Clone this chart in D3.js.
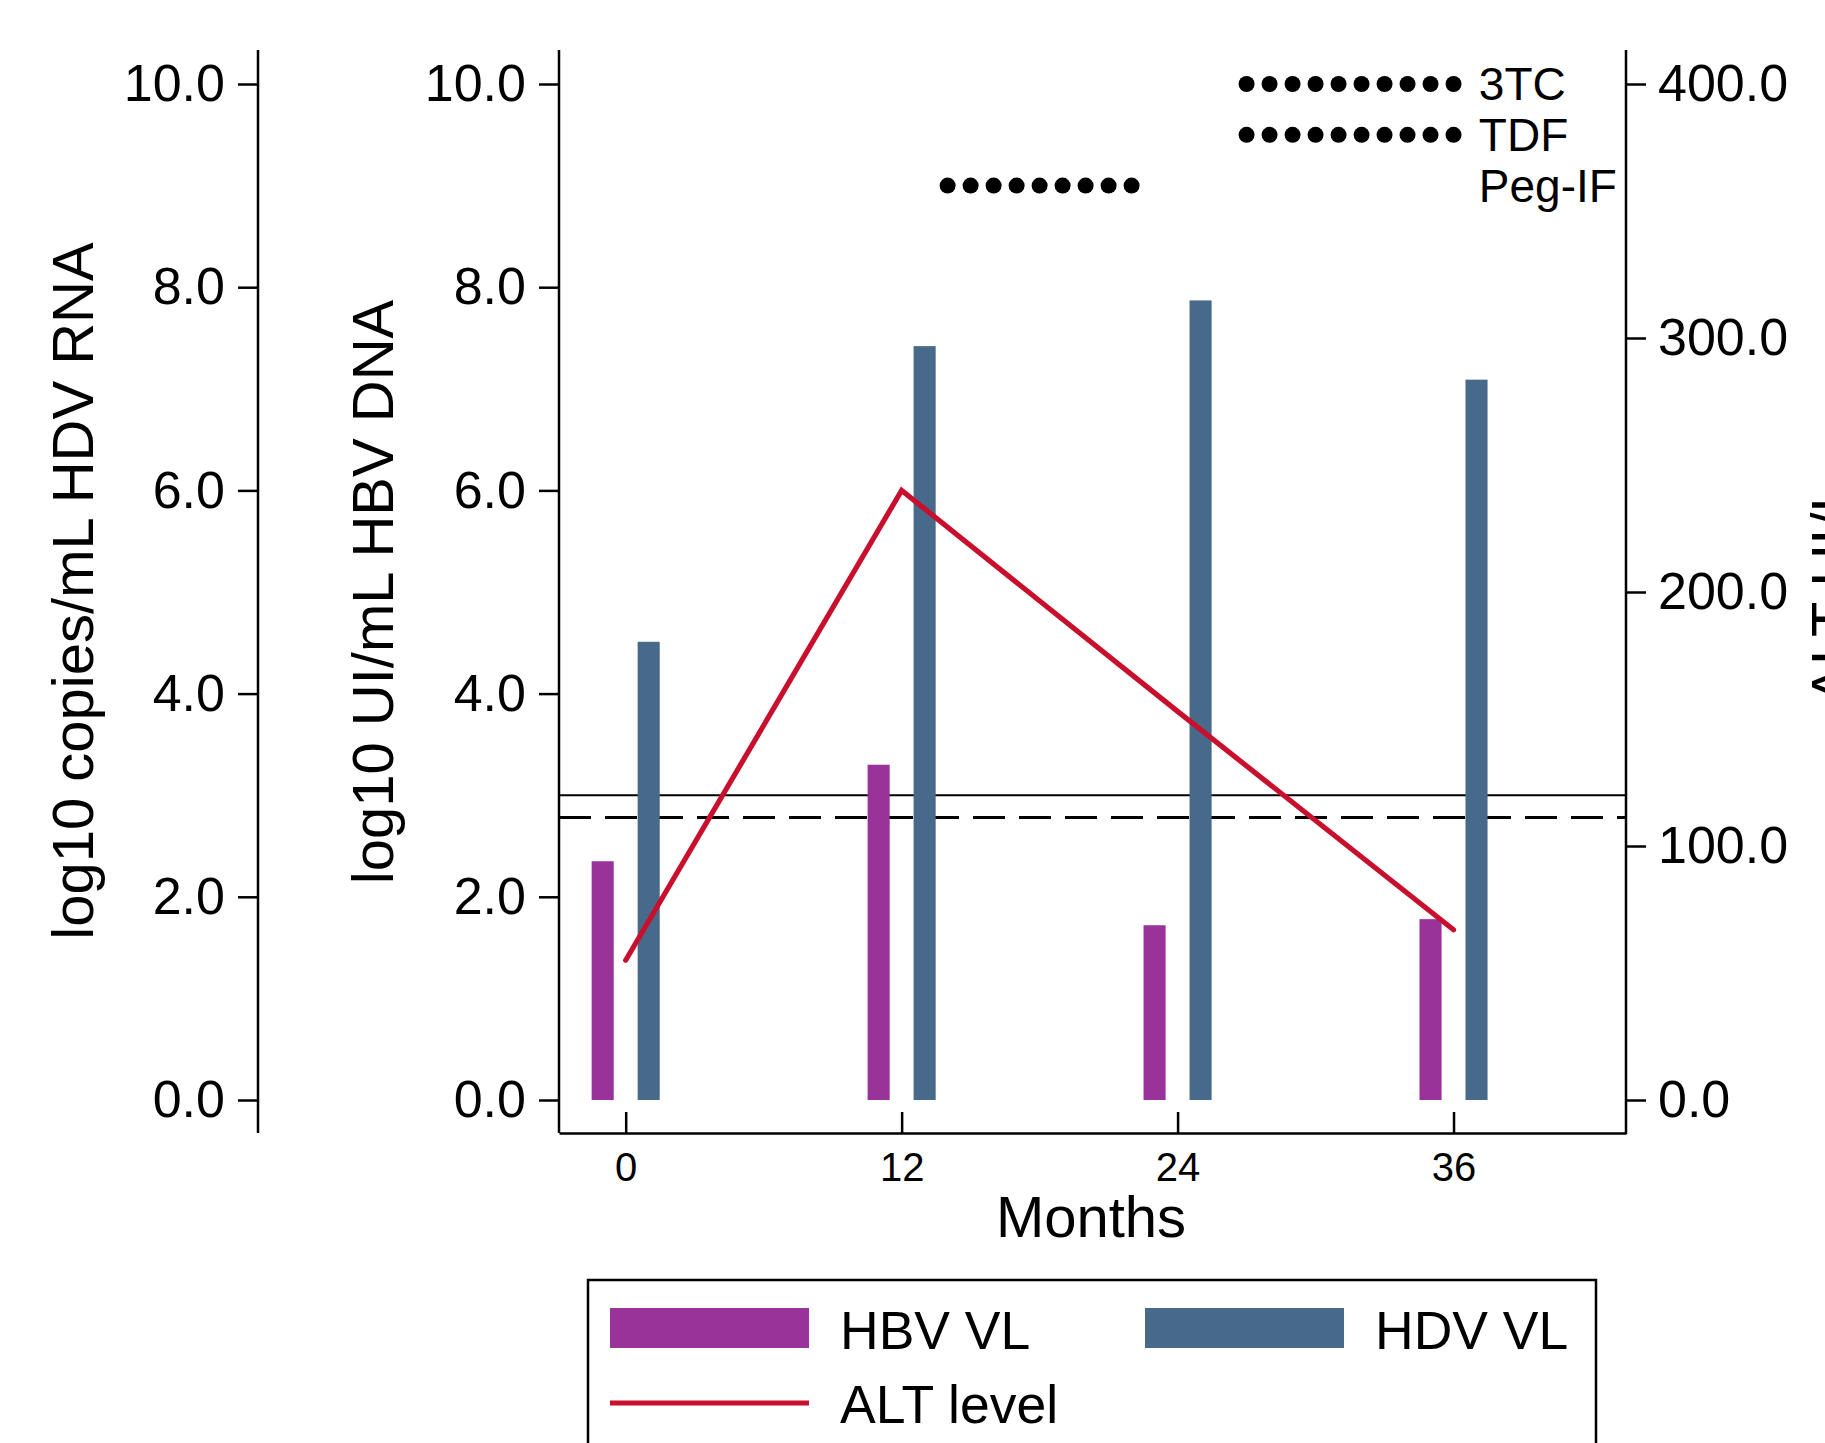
<!DOCTYPE html>
<html>
<head>
<meta charset="utf-8">
<script src="https://cdn.jsdelivr.net/npm/d3@7"></script>
<style>
  body { margin: 0; background: #fff; }
  svg { display: block; font-family: "Liberation Sans", Arial, sans-serif; }
</style>
</head>
<body>
<div id="chart"></div>
<script>
// data
const months = [0, 12, 24, 36];
const hbvVL = [2.35, 3.30, 1.72, 1.78];   // log10 UI/mL
const hdvVL = [4.51, 7.42, 7.87, 7.09];   // log10 copies/mL
const altLevel = [55, 240, 153, 67];      // ALT UI/L
const logTicks = [0, 2, 4, 6, 8, 10];
const altTicks = [0, 100, 200, 300, 400];
const refLines = [{ v: 3.0, dash: null }, { v: 2.78, dash: '32,14' }];
const treatments = [
  { name: '3TC', level: 10.0, from: 27, to: 36 },
  { name: 'TDF', level: 9.5, from: 27, to: 36 },
  { name: 'Peg-IF', level: 9.0, from: 14, to: 22 }
];

const w = 1825, h = 1443;
const hbvColor = '#993399';
const hdvColor = '#476a8b';
const altColor = '#c8102e';

const svg = d3.select('#chart').append('svg')
  .attr('width', w)
  .attr('height', h);

const x = d3.scaleLinear().domain([-2.9, 43.5]).range([559, 1626]);
const y = d3.scaleLinear().domain([0, 10]).range([1100, 84]);
const yAlt = d3.scaleLinear().domain([0, 400]).range([1100, 84]);
const bottom = 1133;
const barW = x(0.96) - x(0);

// reference lines
refLines.forEach((r) => {
  svg.append('line')
    .attr('x1', x.range()[0]).attr('x2', x.range()[1])
    .attr('y1', y(r.v)).attr('y2', y(r.v))
    .attr('stroke', '#000')
    .attr('stroke-width', r.dash ? 3 : 2)
    .attr('stroke-dasharray', r.dash);
});

// bars
svg.selectAll('.hbv')
  .data(months)
  .enter()
  .append('rect')
  .attr('class', 'hbv')
  .attr('x', (d) => x(d - 1) - barW / 2)
  .attr('y', (d, i) => y(hbvVL[i]))
  .attr('width', barW)
  .attr('height', (d, i) => y(0) - y(hbvVL[i]))
  .attr('fill', hbvColor);

svg.selectAll('.hdv')
  .data(months)
  .enter()
  .append('rect')
  .attr('class', 'hdv')
  .attr('x', (d) => x(d + 1) - barW / 2)
  .attr('y', (d, i) => y(hdvVL[i]))
  .attr('width', barW)
  .attr('height', (d, i) => y(0) - y(hdvVL[i]))
  .attr('fill', hdvColor);

// ALT line
const line = d3.line()
  .x((d) => x(d))
  .y((d, i) => yAlt(altLevel[i]));

svg.append('path')
  .datum(months)
  .attr('d', line)
  .attr('fill', 'none')
  .attr('stroke', altColor)
  .attr('stroke-width', 5.2)
  .attr('stroke-linecap', 'round');

// treatment dots
treatments.forEach((t) => {
  const pts = d3.range(t.from, t.to + 1);
  svg.append('g').selectAll('circle')
    .data(pts)
    .enter()
    .append('circle')
    .attr('cx', (d) => x(d))
    .attr('cy', y(t.level))
    .attr('r', 8)
    .attr('fill', '#000');
  svg.append('text')
    .attr('x', x(37.1))
    .attr('y', y(t.level) + 16)
    .attr('font-size', 46)
    .text(t.name);
});

// axes
function styleAxis(g, size) {
  g.selectAll('.tick line').attr('stroke', '#000').attr('stroke-width', 2.5);
  g.selectAll('.tick text').attr('font-size', size).attr('fill', '#000')
    .style('font-family', '"Liberation Sans", Arial, sans-serif');
}

const yAxis = d3.axisLeft(y).tickValues(logTicks).tickFormat(d3.format('.1f'))
  .tickSize(20).tickPadding(13);

[258, 559].forEach((ax) => {
  const g = svg.append('g')
    .attr('transform', 'translate(' + ax + ',0)')
    .call(yAxis);
  g.select('.domain').remove();
  styleAxis(g, 52);
  g.append('line')
    .attr('x1', 0).attr('x2', 0)
    .attr('y1', 50).attr('y2', bottom)
    .attr('stroke', '#000').attr('stroke-width', 2.5);
});

const rAxis = svg.append('g')
  .attr('transform', 'translate(1626,0)')
  .call(d3.axisRight(yAlt).tickValues(altTicks).tickFormat(d3.format('.1f'))
    .tickSize(20).tickPadding(12));
rAxis.select('.domain').remove();
styleAxis(rAxis, 52);
rAxis.append('line')
  .attr('x1', 0).attr('x2', 0)
  .attr('y1', 50).attr('y2', bottom + 1)
  .attr('stroke', '#000').attr('stroke-width', 2.5);

const xAxis = svg.append('g')
  .attr('transform', 'translate(0,' + bottom + ')')
  .call(d3.axisBottom(x).tickValues(months).tickSize(-21).tickSizeOuter(0).tickPadding(20));
xAxis.select('.domain').attr('stroke', '#000').attr('stroke-width', 2.5);
styleAxis(xAxis, 40);

// axis titles
svg.append('text')
  .attr('transform', 'translate(93,591)rotate(-90)')
  .attr('text-anchor', 'middle')
  .attr('font-size', 58)
  .text('log10 copies/mL HDV RNA');

svg.append('text')
  .attr('transform', 'translate(393,592)rotate(-90)')
  .attr('text-anchor', 'middle')
  .attr('font-size', 58)
  .text('log10 UI/mL HBV DNA');

svg.append('text')
  .attr('transform', 'translate(1852,592)rotate(-90)')
  .attr('text-anchor', 'middle')
  .attr('font-size', 58)
  .text('ALT UI/L');

svg.append('text')
  .attr('x', 1091)
  .attr('y', 1237)
  .attr('text-anchor', 'middle')
  .attr('font-size', 58)
  .text('Months');

// legend
const legend = svg.append('g').attr('id', 'legend');
legend.append('rect')
  .attr('x', 588).attr('y', 1280)
  .attr('width', 1008).attr('height', 200)
  .attr('fill', 'none').attr('stroke', '#000').attr('stroke-width', 2.5);

const items = [
  { label: 'HBV VL', color: hbvColor, kind: 'bar', x: 610, y: 1308 },
  { label: 'HDV VL', color: hdvColor, kind: 'bar', x: 1145, y: 1308 },
  { label: 'ALT level', color: altColor, kind: 'line', x: 610, y: 1380 }
];
items.forEach((it) => {
  if (it.kind === 'bar') {
    legend.append('rect')
      .attr('x', it.x).attr('y', it.y)
      .attr('width', 199).attr('height', 40)
      .attr('fill', it.color);
  } else {
    legend.append('line')
      .attr('x1', it.x).attr('x2', it.x + 199)
      .attr('y1', it.y + 23).attr('y2', it.y + 23)
      .attr('stroke', it.color).attr('stroke-width', 5.2);
  }
  legend.append('text')
    .attr('x', it.x + 230)
    .attr('y', it.kind === 'bar' ? it.y + 41 : it.y + 43)
    .attr('font-size', 53.5)
    .text(it.label);
});
</script>
</body>
</html>
